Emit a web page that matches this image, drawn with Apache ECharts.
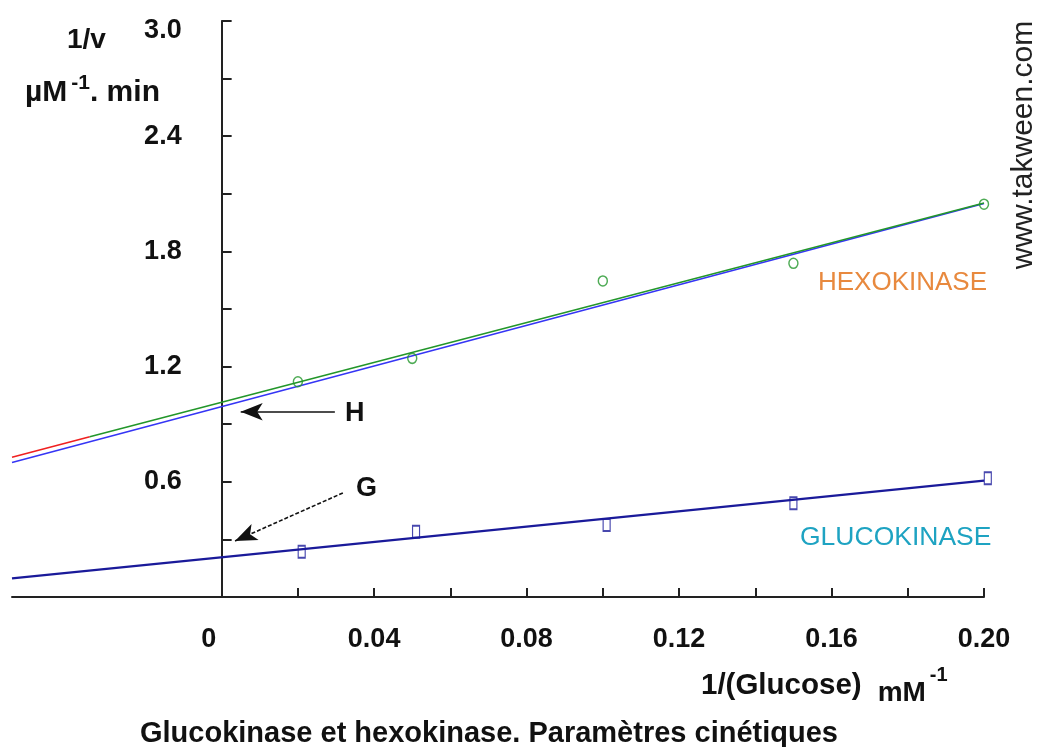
<!DOCTYPE html>
<html>
<head>
<meta charset="utf-8">
<script src="https://cdn.jsdelivr.net/npm/echarts@6/dist/echarts.min.js"></script>
<style>
html,body{margin:0;padding:0;background:#fff;}
#chart{width:1037px;height:747px;}
</style>
</head>
<body>
<div id="chart"></div>
<script>
// ---- data ----
const xTickValues = [0.02, 0.04, 0.06, 0.08, 0.10, 0.12, 0.14, 0.16, 0.18, 0.20];
const xLabelValues = [0, 0.04, 0.08, 0.12, 0.16, 0.20];
const yTickValues = [0.3, 0.6, 0.9, 1.2, 1.5, 1.8, 2.1, 2.4, 2.7, 3.0];
const yLabelValues = [0.6, 1.2, 1.8, 2.4, 3.0];

// Hexokinase measured points (1/[glucose], 1/v)
const hexoX = [0.02, 0.05, 0.10, 0.15, 0.20];
const hexoY = [1.121, 1.243, 1.646, 1.738, 2.046];
// Glucokinase measured points
const glucoX = [0.021, 0.051, 0.101, 0.150, 0.201];
const glucoY = [0.236, 0.340, 0.375, 0.488, 0.618];

// Fitted lines, end points
const hexoRedLine = [[-0.055, 0.728], [-0.0346, 0.835]];
const hexoGreenLine = [[-0.0346, 0.835], [0.2, 2.052]];
const hexoBlueLine = [[-0.055, 0.700], [0.2, 2.050]];
const glucoLine = [[-0.055, 0.097], [0.2, 0.606]];

// Annotation arrows [from, to] in data units
const arrowH = [[0.0297, 0.965], [0.0050, 0.965]];
const arrowG = [[0.0318, 0.542], [0.0035, 0.292]];

const X_MIN = -0.055, X_MAX = 0.2;
const GRID_LEFT = 12, GRID_RIGHT = 53, W = 1037;

const chart = echarts.init(document.getElementById('chart'), null, {renderer: 'canvas'});
const FONT = '"Liberation Sans", Arial, sans-serif';

const pair = (xs, ys) => xs.map((x, i) => [x, ys[i]]);
// y axis drawn at x = 0 : shift from the grid's left edge
const gridW = W - GRID_LEFT - GRID_RIGHT;
const yAxisShift = gridW * (0 - X_MIN) / (X_MAX - X_MIN);

const labelFont = {fontFamily: FONT, fontWeight: 'bold', fontSize: 27, color: '#111'};

const option = {
  backgroundColor: '#ffffff',
  animation: false,
  grid: {left: GRID_LEFT, right: GRID_RIGHT, top: 21, bottom: 150, containLabel: false, outerBoundsMode: 'none'},
  xAxis: {
    type: 'value', min: X_MIN, max: X_MAX,
    axisLine: {show: true, onZero: true, lineStyle: {color: '#222', width: 2}},
    axisTick: {show: true, inside: true, length: 9, customValues: xTickValues, lineStyle: {color: '#222', width: 2}},
    axisLabel: Object.assign({
      customValues: xLabelValues, margin: 29,
      formatter: v => Math.abs(v) < 1e-9 ? '{z|0}' : v.toFixed(2),
      rich: {z: Object.assign({padding: [0, 26, 0, 0]}, labelFont)}
    }, labelFont),
    splitLine: {show: false}
  },
  yAxis: {
    type: 'value', min: 0, max: 3.0, offset: -yAxisShift,
    axisLine: {show: true, onZero: false, lineStyle: {color: '#222', width: 2}},
    axisTick: {show: true, inside: true, length: 10, customValues: yTickValues, lineStyle: {color: '#222', width: 2}},
    axisLabel: Object.assign({
      customValues: yLabelValues, margin: 40,
      formatter: v => Math.abs(v - 3) < 1e-9 ? '{t|' + v.toFixed(1) + '}' : v.toFixed(1),
      rich: {t: Object.assign({padding: [20, 0, 0, 0]}, labelFont)}
    }, labelFont),
    splitLine: {show: false}
  },
  series: [
    {type: 'line', data: hexoBlueLine, symbol: 'none', lineStyle: {color: '#3535f5', width: 1.6}, z: 2},
    {type: 'line', data: hexoRedLine, symbol: 'none', lineStyle: {color: '#f02020', width: 1.6}, z: 3},
    {type: 'line', data: hexoGreenLine, symbol: 'none', lineStyle: {color: '#22962a', width: 1.6}, z: 3},
    {type: 'line', data: glucoLine, symbol: 'none', lineStyle: {color: '#1a1a9a', width: 2.2}, z: 3},
    {
      type: 'scatter', data: pair(hexoX, hexoY), symbol: 'circle', symbolSize: [9, 10], clip: false,
      itemStyle: {color: 'rgba(255,255,255,0)', borderColor: '#22962a', borderWidth: 1.5}, z: 5
    },
    {
      type: 'scatter', data: pair(glucoX, glucoY), symbol: 'rect', symbolSize: [7, 12], clip: false,
      itemStyle: {color: 'rgba(255,255,255,0)', borderColor: '#1a1a9a', borderWidth: 1.5}, z: 5
    },
    {
      type: 'line', data: [], symbol: 'none',
      markLine: {
        silent: true, animation: false,
        symbol: ['none', 'arrow'], symbolSize: [13, 22],
        label: {show: false},
        data: [
          [{coord: arrowH[0], lineStyle: {color: '#111', width: 1.6, type: 'solid'}}, {coord: arrowH[1]}],
          [{coord: arrowG[0], lineStyle: {color: '#111', width: 1.6, type: [4, 2]}}, {coord: arrowG[1]}]
        ]
      }
    }
  ],
  graphic: [
    {type: 'text', left: 67, top: 26, style: {text: '1/v', font: 'bold 28px ' + FONT, fill: '#111'}},
    {type: 'text', left: 25, top: 73, style: {
      text: '{a|µM}{s|-1}{a|. min}', fill: '#111',
      rich: {
        a: {font: 'bold 30px ' + FONT, fill: '#111', verticalAlign: 'bottom'},
        s: {font: 'bold 21px ' + FONT, fill: '#111', verticalAlign: 'top', padding: [0, 0, 14, 4]}
      }
    }},
    {type: 'text', left: 701, top: 665, style: {
      text: '{a|1/(Glucose)}{b|mM}{s|-1}', fill: '#111',
      rich: {
        a: {font: 'bold 29.5px ' + FONT, fill: '#111', verticalAlign: 'bottom'},
        b: {font: 'bold 28px ' + FONT, fill: '#111', verticalAlign: 'bottom', padding: [0, 0, -6, 16]},
        s: {font: 'bold 20px ' + FONT, fill: '#111', verticalAlign: 'top', padding: [0, 0, 16, 4]}
      }
    }},
    {type: 'text', left: 140, top: 719, style: {text: 'Glucokinase et hexokinase. Paramètres cinétiques', font: 'bold 29px ' + FONT, fill: '#111'}},
    {type: 'text', left: 345, top: 400, style: {text: 'H', font: 'bold 27px ' + FONT, fill: '#111'}},
    {type: 'text', left: 356, top: 475, style: {text: 'G', font: 'bold 27px ' + FONT, fill: '#111'}},
    {type: 'text', left: 818, top: 270, style: {text: 'HEXOKINASE', font: '26px ' + FONT, fill: '#e8893e'}},
    {type: 'text', left: 800, top: 524, style: {text: 'GLUCOKINASE', font: '26.5px ' + FONT, fill: '#1ea3c2'}},
    {type: 'text', x: 1024, y: 145, rotation: Math.PI / 2, style: {text: 'www.takween.com', font: '30px ' + FONT, fill: '#222', align: 'center', verticalAlign: 'middle'}}
  ]
};
chart.setOption(option);
</script>
</body>
</html>
